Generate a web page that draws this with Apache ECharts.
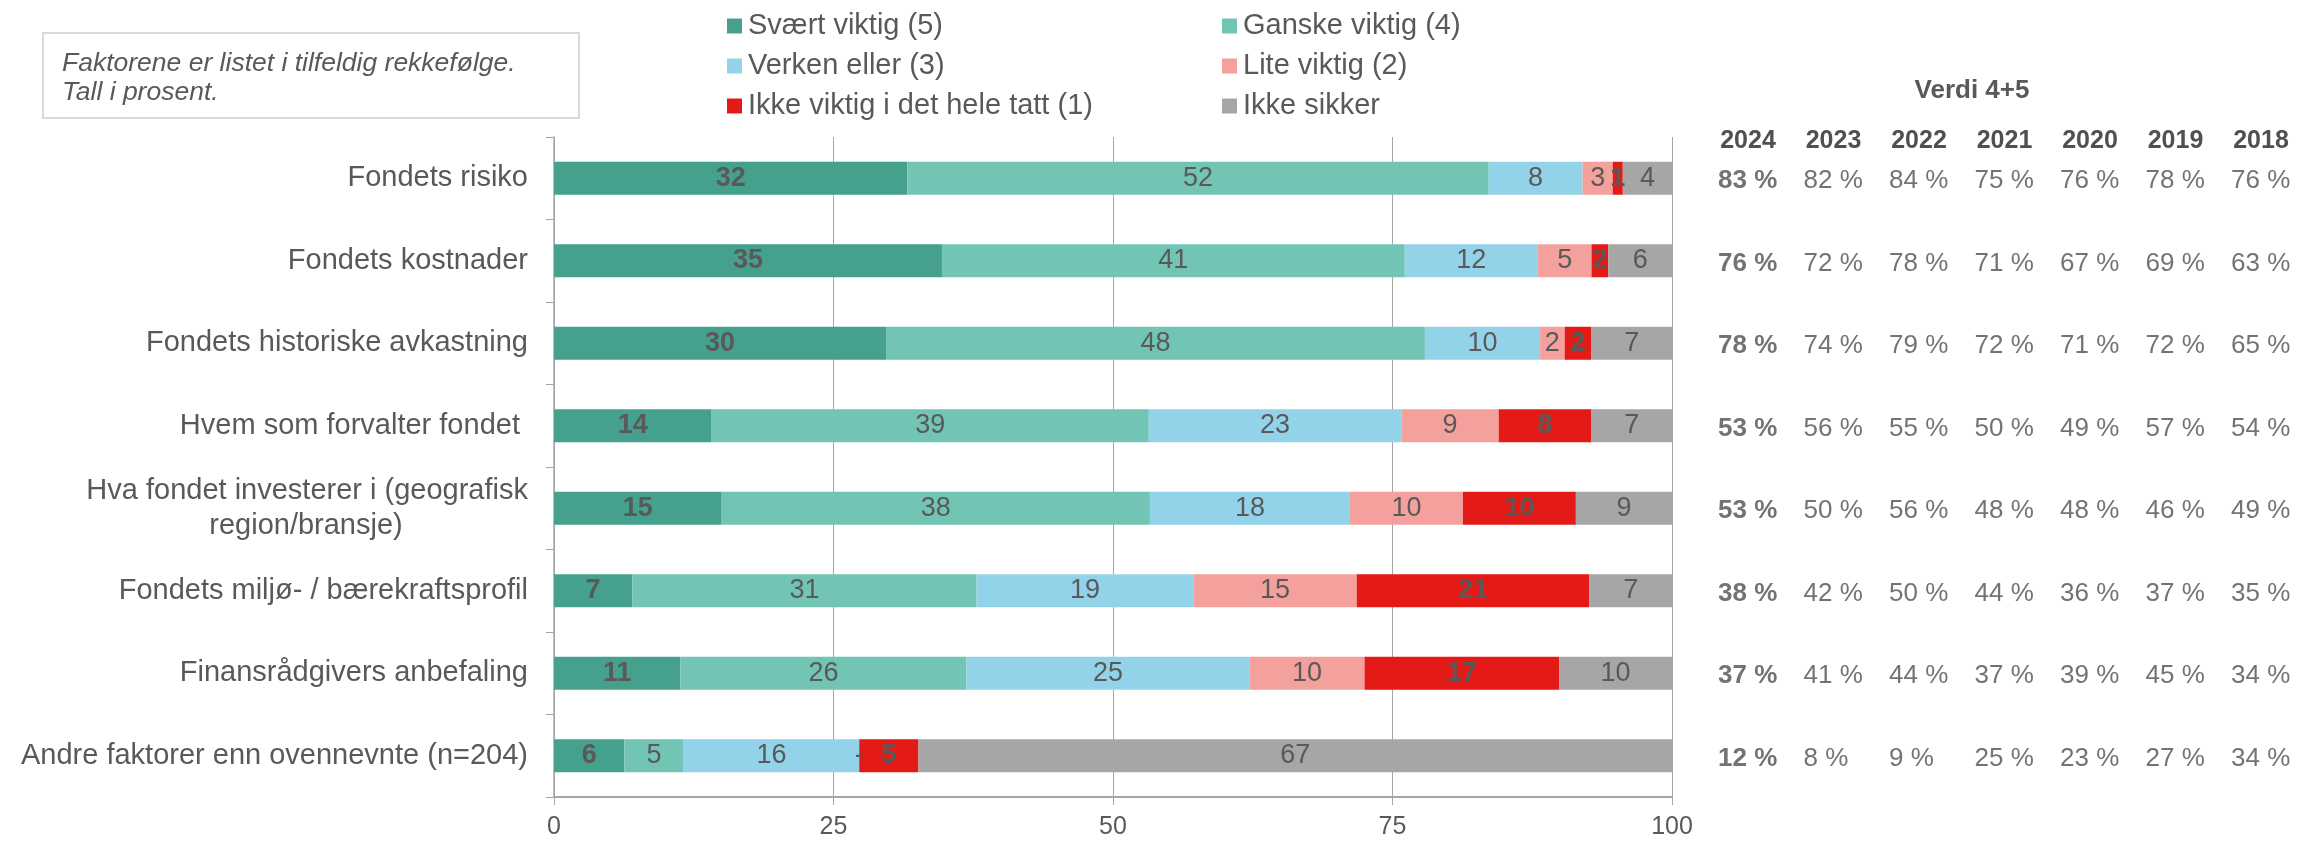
<!DOCTYPE html>
<html>
<head>
<meta charset="utf-8">
<script src="https://cdn.jsdelivr.net/npm/echarts@6/dist/echarts.min.js"></script>
<style>
  html, body { margin: 0; padding: 0; background: #fff; }
  #main { width: 2300px; height: 843px; }
</style>
</head>
<body>
<div id="main"></div>
<script>
// data
var categories = [
    'Fondets risiko',
    'Fondets kostnader',
    'Fondets historiske avkastning',
    'Hvem som forvalter fondet ',
    'Hva fondet investerer i (geografisk\nregion/bransje)',
    'Fondets miljø- / bærekraftsprofil',
    'Finansrådgivers anbefaling',
    'Andre faktorer enn ovennevnte (n=204)'
];
var seriesNames = ['Svært viktig (5)', 'Ganske viktig (4)', 'Verken eller (3)', 'Lite viktig (2)', 'Ikke viktig i det hele tatt (1)', 'Ikke sikker'];
var svaertViktig = [31.6, 34.7, 29.7, 14.1, 15.0, 7.0, 11.3, 6.3];
var ganskeViktig = [52.0, 41.4, 48.2, 39.1, 38.3, 30.8, 25.6, 5.3];
var verkenEller  = [8.4, 11.9, 10.3, 22.6, 17.9, 19.4, 25.3, 15.7];
var liteViktig   = [2.7, 4.8, 2.2, 8.7, 10.1, 14.6, 10.3, 0];
var ikkeViktig   = [0.9, 1.5, 2.4, 8.3, 10.1, 20.8, 17.4, 5.3];
var ikkeSikker   = [4.4, 5.7, 7.2, 7.2, 8.6, 7.4, 10.1, 67.4];

var years = ['2024', '2023', '2022', '2021', '2020', '2019', '2018'];
var verdi2024 = [83, 76, 78, 53, 53, 38, 37, 12];
var verdi2023 = [82, 72, 74, 56, 50, 42, 41, 8];
var verdi2022 = [84, 78, 79, 55, 56, 50, 44, 9];
var verdi2021 = [75, 71, 72, 50, 48, 44, 37, 25];
var verdi2020 = [76, 67, 71, 49, 48, 36, 39, 23];
var verdi2019 = [78, 69, 72, 57, 46, 37, 45, 27];
var verdi2018 = [76, 63, 65, 54, 49, 35, 34, 34];

var colors = ['#46a08e', '#72c4b4', '#93d3ea', '#f4a19d', '#e31a16', '#a6a6a6'];
var font = 'Liberation Sans, Arial, sans-serif';
var textColor = '#595959';

var myChart = echarts.init(document.getElementById('main'));

var barData = [svaertViktig, ganskeViktig, verkenEller, liteViktig, ikkeViktig, ikkeSikker];
var series = barData.map(function (d, i) {
    return {
        name: seriesNames[i],
        type: 'bar',
        stack: 'total',
        barWidth: 33,
        xAxisIndex: 0,
        yAxisIndex: 0,
        itemStyle: { color: colors[i] },
        label: {
            show: true,
            position: 'inside',
            color: textColor,
            fontFamily: font,
            fontSize: 27,
            fontWeight: (i === 0 || i === 4) ? 'bold' : 'normal',
            formatter: function (p) {
                return p.value === 0 ? '-' : Math.round(p.value);
            }
        },
        data: d
    };
});

// table on the right: Verdi 4+5 per year
var verdi = [verdi2024, verdi2023, verdi2022, verdi2021, verdi2020, verdi2019, verdi2018];
verdi.forEach(function (col, j) {
    series.push({
        type: 'scatter',
        xAxisIndex: 1,
        yAxisIndex: 1,
        symbolSize: 0,
        silent: true,
        label: {
            show: true,
            position: 'inside',
            align: 'left',
            offset: [-30, 3],
            color: '#505050',
            fontFamily: font,
            fontSize: 26,
            fontWeight: j === 0 ? 'bold' : 'normal',
            formatter: function (p) { return p.value[2] + ' %'; }
        },
        data: col.map(function (v, i) { return [j, i, v]; })
    });
});

var option = {
    backgroundColor: '#fff',
    textStyle: { fontFamily: font },
    title: {
        text: 'Verdi 4+5',
        left: 1972,
        top: 78,
        textAlign: 'center',
        padding: 0,
        textStyle: { fontSize: 26, fontWeight: 'bold', color: textColor, fontFamily: font, lineHeight: 26 }
    },
    legend: [{
        data: [seriesNames[0], seriesNames[2], seriesNames[4]],
        orient: 'vertical',
        left: 727,
        top: 11,
        icon: 'rect',
        itemWidth: 15,
        itemHeight: 15,
        itemGap: 10,
        padding: 0,
        selectedMode: false,
        textStyle: { fontSize: 29, color: textColor, fontFamily: font, lineHeight: 30, padding: [0, 0, 0, 1] }
    }, {
        data: [seriesNames[1], seriesNames[3], seriesNames[5]],
        orient: 'vertical',
        left: 1222,
        top: 11,
        icon: 'rect',
        itemWidth: 15,
        itemHeight: 15,
        itemGap: 10,
        padding: 0,
        selectedMode: false,
        textStyle: { fontSize: 29, color: textColor, fontFamily: font, lineHeight: 30, padding: [0, 0, 0, 1] }
    }],
    grid: [
        { left: 554, right: 628, top: 137, bottom: 46 },
        { left: 1748, right: 39, top: 137, bottom: 46 }
    ],
    xAxis: [{
        type: 'value',
        gridIndex: 0,
        min: 0,
        max: 100,
        interval: 25,
        axisLine: { show: true, lineStyle: { color: '#a6a6a6', width: 2 } },
        axisTick: { show: true, length: 8, lineStyle: { color: '#a6a6a6' } },
        splitLine: { show: true, lineStyle: { color: '#a6a6a6', width: 1 } },
        axisLabel: { fontSize: 25, color: textColor, fontFamily: font, margin: 18 }
    }, {
        type: 'category',
        gridIndex: 1,
        position: 'top',
        boundaryGap: false,
        data: years,
        axisLine: { show: false },
        axisTick: { show: false },
        splitLine: { show: false },
        axisLabel: {
            fontSize: 25, fontWeight: 'bold', color: '#505050', fontFamily: font,
            margin: -4, verticalAlign: 'middle'
        }
    }],
    yAxis: [{
        type: 'category',
        gridIndex: 0,
        inverse: true,
        data: categories,
        axisLine: { show: true, lineStyle: { color: '#a6a6a6', width: 1.5 } },
        axisTick: { show: true, length: 8, lineStyle: { color: '#a6a6a6' } },
        axisLabel: {
            margin: 26,
            color: textColor,
            fontFamily: font,
            fontSize: 29,
            lineHeight: 35,
            formatter: function (v) {
                var parts = v.split('\n');
                if (parts.length === 1) return v;
                return '{a|' + parts[0] + '}\n{b|' + parts[1] + '}';
            },
            rich: {
                a: { fontSize: 29, lineHeight: 35, color: textColor, fontFamily: font },
                b: { fontSize: 29, lineHeight: 35, color: textColor, fontFamily: font, width: 444, align: 'center' }
            }
        }
    }, {
        type: 'category',
        gridIndex: 1,
        inverse: true,
        data: categories,
        show: false
    }],
    graphic: [{
        type: 'rect',
        left: 42,
        top: 32,
        shape: { width: 536, height: 85 },
        style: { fill: '#fff', stroke: '#d9d9d9', lineWidth: 2 }
    }, {
        type: 'text',
        left: 62,
        top: 49,
        style: {
            text: 'Faktorene er listet i tilfeldig rekkefølge.\nTall i prosent.',
            font: 'italic 26.5px ' + font,
            lineHeight: 29,
            fill: textColor
        }
    }],
    series: series
};

myChart.setOption(option);
</script>
</body>
</html>
